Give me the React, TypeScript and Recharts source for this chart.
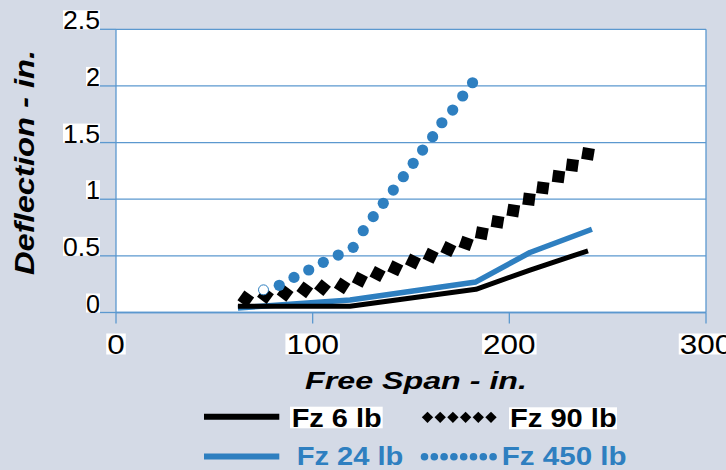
import React from 'react';
import { LineChart, Line, XAxis, YAxis, CartesianGrid, ReferenceLine, Customized } from 'recharts';

const BLUE = '#2e7fc0';
const GRID = '#5b98cf';
const BG = '#d4dae6';
const FONT = '"Liberation Sans", Arial, Helvetica, sans-serif';

const xTicks = [0, 100, 200, 300];
const yTicks = [0, 0.5, 1, 1.5, 2, 2.5];

const fz6X = [62, 119, 183, 210.5, 240];
const fz6Y = [0.055, 0.055, 0.205, 0.375, 0.545];

const fz24X = [62, 119, 183, 210.5, 242];
const fz24Y = [0.04, 0.11, 0.27, 0.53, 0.735];

const fz90X = [66, 76, 86, 96, 105, 115, 124, 133, 142, 151, 160, 169, 178, 186, 194, 202, 210, 217, 225, 232, 240];
const fz90Y = [0.12, 0.15, 0.17, 0.2, 0.22, 0.235, 0.29, 0.34, 0.39, 0.45, 0.5, 0.56, 0.61, 0.7, 0.8, 0.9, 1.0, 1.1, 1.2, 1.3, 1.4];

const fz450X = [75, 83, 90.5, 98, 105.4, 113, 120.6, 125.7, 130.8, 135.9, 141, 146.1, 151.1, 155.9, 161, 165.7, 171.2, 176.3, 181.3];
const fz450Y = [0.2, 0.24, 0.31, 0.375, 0.443, 0.507, 0.575, 0.722, 0.846, 0.964, 1.081, 1.199, 1.317, 1.434, 1.552, 1.675, 1.787, 1.911, 2.028];

const seriesNames = ['Fz 6 lb', 'Fz 24 lb', 'Fz 90 lb', 'Fz 450 lb'];
const xTitle = 'Free Span - in.';
const yTitle = 'Deflection - in.';

const zip = (xs: number[], ys: number[]) => xs.map((x, i) => ({ x, y: ys[i] }));
const d6 = zip(fz6X, fz6Y);
const d24 = zip(fz24X, fz24Y);
const d90 = zip(fz90X, fz90Y);
const d450 = zip(fz450X, fz450Y);

const labelWidth = (s: string, dw: number, pw: number) =>
  s.split('').reduce((a, c) => a + (c === '.' ? pw : dw), 0);

const YTick = (props: any) => {
  const { x, y, payload } = props;
  const s = String(payload.value);
  const w = labelWidth(s, 14, 9);
  return (
    <g>
      <rect x={x - w} y={y - 19} width={w} height={19} fill="#fff" />
      <text x={x} y={y} textAnchor="end" fontFamily={FONT} fontSize={26} fill="#000"
        textLength={w} lengthAdjust="spacingAndGlyphs">{s}</text>
    </g>
  );
};

const XTick = (props: any) => {
  const { x, y, payload } = props;
  const s = String(payload.value);
  const w = labelWidth(s, 17.5, 9);
  const by = y + 30;
  return (
    <g>
      <rect x={x - w / 2 - 1} y={by - 20} width={w + 2} height={21} fill="#fff" />
      <text x={x - w / 2} y={by} fontFamily={FONT} fontSize={27} fill="#000"
        textLength={w} lengthAdjust="spacingAndGlyphs">{s}</text>
    </g>
  );
};

const Diamond = (props: any) => {
  const { cx, cy, index, points } = props;
  if (cx == null || cy == null) return <g key={`d-${index}`} />;
  let ang = 45;
  if (points && points.length > 1) {
    const a = points[Math.max(0, index - 1)];
    const b = points[Math.min(points.length - 1, index + 1)];
    const t = (Math.atan2(b.y - a.y, b.x - a.x) * 180) / Math.PI;
    ang = t + 45;
  }
  const s = 12;
  return (
    <rect key={`d-${index}`} x={cx - s / 2} y={cy - s / 2} width={s} height={s} fill="#000"
      transform={`rotate(${ang} ${cx} ${cy})`} />
  );
};

const Dot = (props: any) => {
  const { cx, cy, index } = props;
  if (cx == null || cy == null) return <g key={`c-${index}`} />;
  if (index === 0) {
    return <circle key={`c-${index}`} cx={cx} cy={cy} r={5} fill="#fff" stroke={BLUE} strokeWidth={1} />;
  }
  return <circle key={`c-${index}`} cx={cx} cy={cy} r={5.6} fill={BLUE} />;
};

const Overlay = () => {
  const diamonds = [0, 1, 2, 3, 4, 5];
  const dots = [0, 1, 2, 3, 4, 5, 6, 7];
  return (
    <g>
      <text x={416} y={389.3} textAnchor="middle" fontFamily={FONT} fontSize={23} fontWeight="bold"
        fontStyle="italic" fill="#000" textLength={222} lengthAdjust="spacingAndGlyphs">{xTitle}</text>
      <text transform="translate(34 162.5) rotate(-90)" x={0} y={0} textAnchor="middle" fontFamily={FONT}
        fontSize={28} fontWeight="bold" fontStyle="italic" fill="#000" textLength={225}
        lengthAdjust="spacingAndGlyphs">{yTitle}</text>

      <line x1={204} x2={279.3} y1={416.7} y2={416.7} stroke="#000" strokeWidth={6} />
      <rect x={290} y={406.7} width={92.7} height={21.6} fill="#fff" />
      <text x={291.7} y={427.3} fontFamily={FONT} fontSize={26} fontWeight="bold" fill="#000"
        textLength={90} lengthAdjust="spacingAndGlyphs">{seriesNames[0]}</text>

      {diamonds.map((i) => {
        const cx = 427.5 + i * 12.7;
        const cy = 417.3;
        return <rect key={`ld-${i}`} x={cx - 4} y={cy - 4} width={8} height={8} fill="#000"
          transform={`rotate(45 ${cx} ${cy})`} />;
      })}
      <rect x={509} y={407.3} width={108} height={22} fill="#fff" />
      <text x={510} y={427} fontFamily={FONT} fontSize={26} fontWeight="bold" fill="#000"
        textLength={106.7} lengthAdjust="spacingAndGlyphs">{seriesNames[2]}</text>

      <line x1={204} x2={279.3} y1={456.5} y2={456.5} stroke={BLUE} strokeWidth={6} />
      <text x={296.7} y={465} fontFamily={FONT} fontSize={26} fontWeight="bold" fill={BLUE}
        textLength={106.7} lengthAdjust="spacingAndGlyphs">{seriesNames[1]}</text>

      {dots.map((i) => (
        <circle key={`lc-${i}`} cx={424.5 + i * 9.8} cy={456.7} r={3.8} fill={BLUE} />
      ))}
      <text x={501.7} y={465} fontFamily={FONT} fontSize={26} fontWeight="bold" fill={BLUE}
        textLength={125} lengthAdjust="spacingAndGlyphs">{seriesNames[3]}</text>
    </g>
  );
};

export default function App() {
  return (
    <div style={{ position: 'fixed', left: 0, top: 0, width: 726, height: 470, background: BG }}>
      <LineChart width={726} height={470} margin={{ top: 29.3, right: 20, bottom: 127.5, left: 16 }}>
        <CartesianGrid vertical={false} stroke={GRID} strokeWidth={1.3} fill="#fff" />
        <XAxis type="number" dataKey="x" domain={[0, 300]} ticks={xTicks} height={30}
          tickSize={11} tickMargin={0} stroke={GRID} strokeWidth={1.3}
          tickLine={{ stroke: GRID, strokeWidth: 1.3 }} axisLine={{ stroke: GRID, strokeWidth: 1.3 }}
          tick={<XTick />} allowDataOverflow interval={0} />
        <YAxis type="number" domain={[0, 2.5]} ticks={yTicks} width={100}
          tickSize={16} tickMargin={0} stroke={GRID}
          tickLine={{ stroke: GRID, strokeWidth: 1.3 }} axisLine={{ stroke: GRID, strokeWidth: 1.3 }}
          tick={<YTick />} allowDataOverflow interval={0} />
        <ReferenceLine x={300} stroke={GRID} strokeWidth={1.3} />
        <Line data={d90} dataKey="y" stroke="none" strokeWidth={0} dot={Diamond}
          isAnimationActive={false} activeDot={false} legendType="none" />
        <Line data={d450} dataKey="y" stroke="none" strokeWidth={0} dot={Dot}
          isAnimationActive={false} activeDot={false} legendType="none" />
        <Line data={d24} dataKey="y" stroke={BLUE} strokeWidth={5.5} dot={false}
          isAnimationActive={false} activeDot={false} strokeLinejoin="round" />
        <Line data={d6} dataKey="y" stroke="#000" strokeWidth={5} dot={false}
          isAnimationActive={false} activeDot={false} strokeLinejoin="round" />
        <Customized component={Overlay} />
      </LineChart>
    </div>
  );
}
